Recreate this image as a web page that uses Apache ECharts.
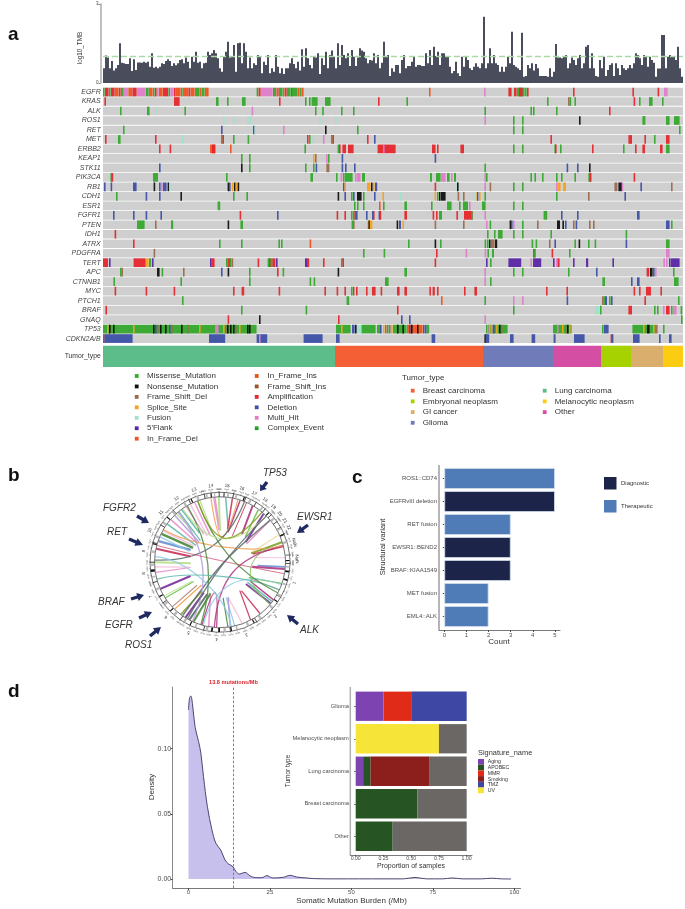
<!DOCTYPE html>
<html><head><meta charset="utf-8">
<script src="https://cdn.jsdelivr.net/npm/echarts@6/dist/echarts.min.js"></script>
<style>html,body{margin:0;padding:0;background:#fff}#c{width:685px;height:909px}</style>
</head><body><div id="c"></div>
<script>
// ---------- panel a: TMB ----------
const tmb=[.56,1.04,.97,.56,.84,.47,.56,.68,1.51,.77,.75,.72,.72,.94,.46,.90,.49,.78,.78,.77,.81,.77,.81,.62,1.13,.58,.62,.56,.62,.75,.72,.84,.90,.84,.65,.75,.67,.75,.87,.90,.75,.97,.81,.56,1.00,.81,1.19,.77,.81,.56,.75,.77,1.19,1.06,1.13,1.25,1.13,.94,.56,.43,1.00,1.19,1.57,.97,1.00,1.44,.43,1.51,1.53,.75,1.51,1.19,.56,.97,.56,.75,.68,1.06,1.00,.37,.81,.68,1.06,.37,.56,.43,1.06,.62,.37,.56,.34,.56,.56,.75,.94,.72,.56,.81,.47,1.28,.62,1.32,.94,.68,.56,1.03,.97,1.13,.34,.94,.68,1.19,.56,1.06,1.23,1.00,.56,1.51,.68,1.44,1.06,.94,1.13,.65,1.25,1.00,.65,.97,1.32,1.23,1.19,.94,.75,.87,.85,1.13,.75,1.06,.56,.77,1.57,1.00,1.06,.27,.56,.43,.68,.68,.37,.87,1.06,.56,.65,.65,.81,1.00,.62,.68,.68,.65,.65,1.13,.75,1.25,.68,1.38,1.03,1.19,.68,1.13,1.13,1.00,1.00,.62,.37,.46,.81,.37,.27,1.00,.62,1.00,.87,.56,.49,.62,.75,.62,.56,.75,2.52,.56,.75,1.32,.75,1.06,.75,.68,.43,.62,.43,.62,1.00,.75,1.95,.68,.62,.56,.49,1.91,.24,.27,.68,.56,.75,.47,.72,.56,.27,.27,.27,.27,.24,.56,.24,.43,1.48,.97,.97,.94,1.00,1.06,.56,.75,.97,.87,.68,.94,1.06,.56,.75,1.38,1.44,.56,1.13,.56,.27,.24,.87,.56,1.00,.27,.49,.68,.75,.27,.75,.56,.30,.68,.56,.49,.56,.68,.56,.75,1.13,1.06,.94,.68,1.06,1.00,.62,1.00,.87,.77,.24,.55,.55,1.82,1.82,.56,1.00,1.06,1.00,1.03,.87,1.38,.56,.24];
const tmbThreshold=1;
const genes=['EGFR','KRAS','ALK','ROS1','RET','MET','ERBB2','KEAP1','STK11','PIK3CA','RB1','CDH1','ESR1','FGFR1','PTEN','IDH1','ATRX','PDGFRA','TERT','APC','CTNNB1','MYC','PTCH1','BRAF','GNAQ','TP53','CDKN2A/B'];
// each mark: [first sample, type key, span in samples (default 1)]
const mEGFR=[[0,'M'],[1,'A',2],[3,'M'],[4,'A',2],[6,'I',2],[8,'A'],[9,'M',1.5],[10.5,'H',2.2],[12.7,'I',2],[14.7,'A',2.3],[17,'H',4.5],[21.5,'M',1.5],[23,'I',2],[25,'M'],[26,'A'],[27,'H'],[28,'I',2],[30,'A',2.7],[32.7,'M'],[33.7,'H',1.8],[35.5,'A'],[36.5,'I',2.5],[39,'M'],[40,'I',2.7],[42.7,'A'],[43.7,'I',2.3],[46,'M',2.5],[48.5,'I'],[49.5,'M',1.5],[51,'I',2],[76.8,'M'],[77.8,'A',1.2],[79,'H',6],[85,'M',1.7],[86.7,'I'],[87.7,'A',.8],[88.5,'M',1.5],[90,'I'],[91,'A'],[92,'M',2],[94,'A',.5],[94.5,'M',3],[97.5,'I'],[98.5,'M'],[99.5,'I'],[163,'I'],[190.5,'H'],[202.7,'A',1.8],[204.5,'F'],[205.5,'A',1.5],[207,'M',3.7],[208,'A',2],[210.7,'M',1.3],[212,'A'],[235,'A'],[264.7,'A'],[277.3,'A'],[280.5,'H',2]];
const mKRAS=[[.7,'A'],[35.5,'A',3],[56.5,'M',1.5],[62,'M'],[69.5,'M',2],[88,'A'],[101,'M'],[103,'M'],[104.3,'M',3.2],[111,'M',3],[137.5,'A'],[151.7,'M'],[222,'M'],[232.5,'D'],[233.3,'M'],[235.7,'M'],[265.3,'A'],[268,'M'],[273,'M',2],[279.5,'M']];
const mALK=[[8.5,'M'],[22,'M',1.5],[26,'F'],[40.7,'M'],[74.3,'H'],[106,'M'],[109,'F'],[109.6,'M'],[119,'M'],[125,'M'],[190.7,'M'],[213.7,'M'],[215,'M'],[226.5,'M'],[253,'A']];
const mROS1=[[60,'F'],[65,'F'],[72,'F'],[73.5,'F'],[108,'F'],[116,'F'],[190.7,'H'],[205,'M'],[209.5,'M'],[238,'N'],[269.7,'M',1.7],[281.5,'M',2],[285.5,'M',3]];
const mRET=[[10,'M'],[59,'L'],[75,'L'],[75.7,'F'],[90,'H'],[111,'N'],[127,'M'],[205,'M'],[209.5,'M'],[288,'M']];
const mMET=[[1,'A'],[7.5,'M',1.5],[26,'A'],[39.5,'F'],[59,'M'],[59.7,'A'],[65,'M'],[72.3,'M'],[102,'A'],[103,'M'],[104.7,'F'],[110,'H'],[114,'M'],[114.7,'A'],[132,'A'],[135.5,'L'],[223.7,'A'],[262.7,'A',2],[270.7,'A'],[275.5,'M'],[281.5,'A',2]];
const mERBB2=[[28,'A'],[33.3,'A'],[53.5,'I',3],[54.5,'A',1.7],[63.5,'I'],[100.7,'M'],[117.3,'M'],[118,'A'],[119.7,'A',2],[122.5,'A',3],[137.3,'A',9.2],[140,'H'],[164.5,'A',2],[167,'A'],[178.7,'A',2],[205,'M'],[209.5,'M'],[225.7,'M'],[226,'A'],[228.5,'M'],[244.5,'A'],[260,'M'],[266,'A'],[269.7,'A',1.5],[278.5,'A',1.5],[281.5,'M',2]];
const mKEAP1=[[69,'M'],[73,'M'],[105,'S'],[106,'D'],[111.5,'H'],[112.5,'M'],[119.3,'L'],[165.8,'L']];
const mSTK11=[[28,'L'],[69,'N'],[73,'M'],[101,'M'],[105,'M'],[106.3,'L'],[111.7,'D',1.7],[119.3,'L'],[121,'L'],[125.5,'L'],[190.7,'M'],[231.8,'L'],[237,'L'],[243,'N']];
const mPIK3CA=[[3.7,'M'],[4.3,'A'],[25,'M',2.7],[61.5,'M'],[103.7,'M',1.5],[116.5,'M'],[118.8,'H'],[120,'M'],[121,'M',4],[126,'H'],[127,'H',2],[129.5,'M',1.7],[163.5,'M',1.2],[166.5,'M',2.5],[169,'H',2.5],[172,'M',1.5],[174,'H'],[175.5,'M',1.2],[190.7,'H'],[191.5,'M'],[213.7,'M'],[215.7,'M'],[219.5,'M'],[226.5,'M'],[229,'M'],[235.7,'M'],[242.7,'M',1.8],[243.3,'A',.7],[265.3,'A']];
const mRB1=[[.5,'L'],[3.8,'L'],[15,'L',2],[25.3,'N'],[28,'L'],[29,'H'],[30,'L',2],[32.3,'N'],[33,'F'],[62.3,'N'],[63,'L'],[64.5,'S',1],[65.5,'N'],[66.3,'S'],[67.3,'N'],[120,'L'],[120.7,'S'],[132,'S',2],[134,'N'],[135,'S'],[136,'L',1.3],[165.8,'A'],[176.7,'F'],[177,'N'],[190.7,'H'],[193.3,'D'],[205,'M'],[209.5,'M'],[226.5,'H'],[227.3,'S',1.7],[230,'S',1.7],[255.7,'D',1.7],[257.7,'N',2],[259.3,'H'],[268.7,'L'],[284,'D']];
const mCDH1=[[6.5,'M'],[21.3,'L'],[28,'L'],[38.7,'N'],[65,'M'],[71.7,'M'],[117.3,'N'],[120.7,'L'],[124,'M'],[125,'L'],[127,'N',2.5],[130,'M'],[135.5,'L'],[139.7,'S'],[148.5,'F'],[165.8,'S'],[167,'M'],[168,'N'],[169,'N',2.5],[177.3,'D'],[180,'D'],[185.7,'F'],[186.7,'S'],[187,'L',.7],[188,'S'],[190.7,'M'],[226.5,'M'],[242.5,'D'],[260.7,'L']];
const mESR1=[[57.3,'M',1.5],[125.5,'M'],[127,'M'],[130,'M'],[138,'I'],[140,'M'],[150.7,'M',1.5],[164,'M'],[172,'M',2.5],[178,'M'],[180,'M',2.7],[183,'H'],[189.5,'M',2],[205,'M'],[209.5,'M']];
const mFGFR1=[[5,'L'],[15,'L'],[21.3,'L'],[28.7,'L'],[68.3,'A'],[87,'L'],[116.8,'A'],[120.7,'A'],[124,'M'],[125,'M'],[125.7,'A'],[126.5,'L'],[131.5,'L'],[134.5,'L'],[135,'A'],[137.8,'L'],[138.3,'A'],[150.7,'A',1.5],[164.8,'A',1],[166.5,'A'],[168,'M',1.7],[176.7,'A'],[180.5,'A',4.5],[184,'M'],[190.7,'H'],[220.3,'M',2],[229,'L'],[237,'L'],[267,'L',1.5]];
const mPTEN=[[17,'M',4],[26,'D'],[34,'M',1.3],[62.3,'N'],[68.7,'M',1.5],[124.3,'M'],[125,'D'],[132.2,'S',2.7],[132.7,'N',.6],[146.8,'N'],[148,'L',1.2],[149.7,'S'],[165.8,'D'],[180,'D'],[191.5,'H'],[193.3,'M'],[203.3,'N'],[204,'L'],[205,'H'],[209.5,'M'],[217,'D'],[227,'N',1.7],[229.7,'N'],[231,'L'],[235,'D'],[236.3,'L'],[243,'D'],[245,'D'],[281.5,'L',2],[284,'M']];
const mIDH1=[[5.8,'A'],[192,'M'],[195.5,'M'],[197.5,'M',2.5],[205,'M'],[209.5,'M'],[223.7,'M'],[261.3,'M']];
const mATRX=[[15,'A'],[58,'M'],[69,'M'],[87.7,'M'],[89,'M'],[103.3,'I'],[152.5,'M'],[165.8,'N'],[168.5,'M'],[190.8,'M'],[192,'M',1],[193,'N'],[194,'D',2],[196,'N',1.3],[214.3,'M'],[216.3,'M'],[223,'D'],[225.7,'L'],[235.7,'M'],[237.8,'N'],[242.5,'M'],[245.8,'M'],[261.3,'L'],[281.5,'M',2]];
const mPDGFRA=[[25.3,'D'],[130,'M'],[140.3,'M'],[166.5,'A'],[181.3,'H'],[190.8,'H'],[192.2,'M'],[194.5,'M',1.2],[215,'A',1.5],[215.3,'M',1],[224.3,'A'],[233,'M'],[281.5,'H',2]];
const mTERT=[[0,'A',2.7],[3,'P'],[15,'H'],[15.5,'A',6],[21.5,'S',1.5],[23,'M',1.3],[24.5,'P'],[53.5,'P'],[54.2,'A',1.8],[61.5,'M'],[62.3,'A',2],[63.3,'M'],[64.3,'D'],[77.3,'A'],[82.3,'M',2.7],[83,'A',.5],[84.7,'A',1.7],[86.5,'P'],[101,'P',1.3],[102,'A',1.3],[110,'A'],[119,'M'],[119.7,'A'],[165.8,'A'],[191.5,'P'],[193.5,'M'],[202.7,'P',6.6],[213.7,'H'],[215,'P',4.3],[225,'P'],[226.5,'H',1],[227.3,'A',1.2],[235,'P'],[241.5,'P',1.3],[254.7,'P'],[280.2,'H'],[281.5,'H'],[283,'P'],[284,'P',4.5]];
const mAPC=[[8.5,'M'],[9.2,'D'],[27,'N',1.5],[29.3,'M'],[40,'D'],[59,'L'],[62.3,'N'],[73,'M'],[87,'A'],[89.8,'M'],[117.3,'N'],[150.7,'M',1.5],[190.7,'H'],[205,'M'],[209.5,'M'],[232.5,'M'],[246.5,'L'],[271.8,'A',1.5],[273.5,'N',1.5],[275,'L'],[276,'H'],[285,'M']];
const mCTNNB1=[[5.2,'M'],[38.7,'M'],[73,'M'],[103.3,'M'],[105.3,'M'],[141,'M',2],[190.7,'H'],[193.5,'M'],[249.7,'M',1.5],[264,'L'],[267,'L',1.5],[285.5,'M',2.5]];
const mMYC=[[5.8,'A'],[21.3,'A'],[35.3,'A'],[65,'A'],[69.3,'A',1.5],[87.8,'A'],[110.7,'A'],[116.8,'A'],[120.7,'A'],[124,'M'],[125,'A',.7],[126.5,'A'],[131.5,'A'],[134.5,'A',2],[138.8,'A'],[147,'A',1.5],[150.7,'A',1.5],[163.2,'A'],[164.8,'A',1.3],[167,'A'],[180.5,'A'],[185.7,'A',1.5],[221.5,'A'],[231.7,'A'],[265.3,'A'],[268,'A'],[271.5,'A',2.7],[278.7,'A']];
const mPTCH1=[[39.5,'M'],[121.8,'M',1.5],[169,'I'],[190.7,'M'],[205,'H'],[209.5,'H'],[231.8,'L'],[249.5,'D'],[250.2,'M'],[251,'L',1.2],[253,'M'],[254,'L'],[270.7,'A'],[287.5,'M']];
const mBRAF=[[1.2,'A'],[69,'M'],[101.3,'M'],[147,'A'],[205,'M'],[246,'F',2.2],[248.5,'M'],[262.7,'A',2],[275.5,'M'],[277,'M'],[280,'H'],[281.5,'A',2],[284,'M'],[285,'H',2],[288.8,'M']];
const mGNAQ=[[62.3,'A'],[78,'N'],[117.5,'A'],[149,'L'],[153,'L'],[190.7,'H'],[289,'M']];
const mTP53=[[0,'M',77],[2,'S'],[3,'N'],[5,'N'],[15,'S'],[25,'N'],[26,'L'],[27,'D'],[28.5,'N'],[31,'N'],[33,'L'],[34,'D'],[39,'N'],[42,'D'],[48,'S'],[56,'H',2],[60,'S'],[61,'D'],[62,'N'],[63.5,'N'],[65,'N'],[66,'D'],[68,'S'],[72,'N'],[73,'N'],[116.5,'M',7.5],[119,'S'],[124.5,'L',1.5],[126,'N'],[127,'F',2.3],[129.3,'M',7.2],[137,'M',2],[138.5,'L'],[140,'S'],[141,'D'],[142,'M'],[143,'D'],[144,'S'],[145,'M',7],[147,'N'],[149.7,'N'],[152,'I',8],[153,'L'],[154,'N'],[157,'N'],[160,'L'],[161,'L'],[161.8,'M',1.5],[191.5,'M',11],[192,'H'],[193,'S'],[194,'H'],[195,'L'],[196.5,'S'],[198,'N'],[199,'D'],[225,'M',9.5],[227,'H'],[229.5,'S'],[231,'D'],[232,'N'],[233,'S'],[249.5,'M'],[250.5,'L',2.5],[264.7,'M',12],[270,'S'],[272,'N',1.5],[275,'S'],[276.5,'D'],[280,'M']];
const mCDKN2AB=[[0,'A'],[.7,'L',14.3],[53,'L',8.3],[76.8,'L',5.5],[78,'H'],[100.3,'L',9.7],[116.5,'L',2],[164.3,'L',2],[190.7,'N'],[191.3,'L',2],[203.5,'L',2],[214.3,'L',2],[225.3,'L',1.2],[235.5,'L',5.5],[253.8,'A'],[254.4,'L'],[265,'L',3.5],[278,'L'],[283,'L',1.5]];
const geneMarks=[mEGFR,mKRAS,mALK,mROS1,mRET,mMET,mERBB2,mKEAP1,mSTK11,mPIK3CA,mRB1,mCDH1,mESR1,mFGFR1,mPTEN,mIDH1,mATRX,mPDGFRA,mTERT,mAPC,mCTNNB1,mMYC,mPTCH1,mBRAF,mGNAQ,mTP53,mCDKN2AB];
const mutKeys={M:'#35a82c',N:'#111111',D:'#9a6a4e',S:'#f5a11c',F:'#9fe3cc',P:'#5a25a3',I:'#f2511f',J:'#e8500f',K:'#9a5028',A:'#e5262b',L:'#3d50a5',H:'#e07ccb',C:'#23a328'};
const mutLegendL=[['Missense_Mutation','M'],['Nonsense_Mutation','N'],['Frame_Shift_Del','D'],['Splice_Site','S'],['Fusion','F'],["5'Flank",'P'],['In_Frame_Del','I']];
const mutLegendR=[['In_Frame_Ins','J'],['Frame_Shift_Ins','K'],['Amplification','A'],['Deletion','L'],['Multi_Hit','H'],['Complex_Event','C']];
const tumorOrder=['Lung carcinoma','Breast carcinoma','Glioma','Other','Embryonal neoplasm','GI cancer','Melanocytic neoplasm'];
const tumorCounts=[116,74,35,24,15,16,10];
const tumorColors=['#5cbc8a','#f45f35','#6f7cb9','#d44fa4','#a5d200','#daae6c','#fccc12'];
const tumorLegendL=['Breast carcinoma','Embryonal neoplasm','GI cancer','Glioma'];
const tumorLegendR=['Lung carcinoma','Melanocytic neoplasm','Other'];
// ---------- panel b: circos ----------
const chromNames=['1','2','3','4','5','6','7','8','9','10','11','12','13','14','15','16','17','18','19','20','21','22','X','Y'];
const chromMb=[249,243,198,191,181,171,159,146,141,135,135,133,115,107,102,90,81,78,59,63,48,51,155,59];
const ringStart=91; // clockwise from the top
const ideogramDark=[[-8,1],[3,.8],[20,1],[44,1],[66,1],[88,1],[97,1.5],[104,1.5],[124,1],[150,1],[170,1],[180,1.5],[186,1.5],[205,1],[225,1],[240,1],[262,2],[285,1],[310,1],[335,1]];
const ideogramGray=[[-12,1.5],[-5,1],[6,1.5],[13,1.5],[25,2],[37,1.5],[50,2],[60,1.5],[72,2],[83,1.5],[93,1.5],[108,1.5],[118,2],[130,2],[143,2],[155,2],[165,1.5],[175,2],[190,2],[200,1.5],[210,2],[220,2],[232,2],[246,2],[257,1.5],[267,2],[278,2],[291,2],[304,2],[316,2],[328,2],[340,2]];
const linkColors=['#e88fc9','#6fbf4a','#5fb8a8','#b0357f','#b8e08a','#5a6a6a','#7b2d9b','#6c8fd0','#c8325a','#f0a050','#8ccbe8','#8a9a20','#4a8a3a','#f4c0e0','#b08878','#b49ad8','#f5d9a0'];
// long curved links: [angle A, angle B, pull radius (0..1 of the inner circle), colour index, width]
const links=[[-8,16,.2,9,1.2],[183,196,.3,3,1.3],[185,75,.25,3,1.3],[50,215,.1,5,1.5],[272,22,.3,5,1.3],[320,205,.35,15,1.3],[285,100,.5,8,.8],[300,75,.5,9,1.2],[330,197,.3,12,1.3],[275,170,.5,10,1.2],[110,195,.35,10,1.2],[255,115,.5,2,1.2],[340,118,.3,12,1.2],[325,45,.3,4,1.2],[340,40,.25,11,1.2],[210,45,.2,5,1.3],[72,130,.4,1,1]];
// short ribbons: [angle at the edge, angle at the inner end, inner radius (0..1), colour index, width]
const spokes=[[-42,-40,.6,4,1.2],[-36,-35,.55,2,1.5],[-31,-30,.5,0,1.5],[-27,-26,.45,13,1.5],[-23,-20,.45,0,1.5],[-18,-14,.45,4,1.3],[-5,-1,.5,0,2.5],[-1,0,.48,4,2],[5,15,.5,2,1.5],[11,13,.52,8,1.5],[18,15,.48,3,1.5],[24,25,.45,8,1],[30,38,.55,3,2],[36,45,.55,1,1.5],[42,52,.5,6,2],[50,55,.5,0,1.5],[65,73,.5,16,1.2],[72,74,.5,11,2],[76,76,.52,8,1.5],[86,82,.53,13,1.2],[94,95,.58,7,1.8],[96,98,.5,3,2],[109,118,.5,1,1.3],[115,118,.55,14,1],[125,122,.55,3,1.5],[127,126,.52,2,1.5],[129,130,.52,6,1.8],[130,128,.58,1,1],[142,143,.55,8,1.3],[152,145,.53,8,1.2],[160,167,.55,13,1.2],[167,170,.55,10,1.2],[171,167,.55,15,1.5],[173,175,.55,12,1.2],[190,196,.53,0,1.5],[204,197,.5,12,2],[208,202,.53,5,2],[212,208,.53,6,2],[217,212,.52,11,1.5],[224,219,.45,9,1.2],[227,225,.5,14,1.2],[237,234,.5,1,1.2],[239,236,.52,4,1],[246,245,.5,6,2],[261,260,.46,0,1.2],[266,261,.48,13,1.2],[270,268,.45,4,2],[282,281,.46,8,2],[289,293,.49,7,2.5],[293,290,.5,10,1.2],[296,298,.47,12,2.5],[299,302,.48,13,1.5],[306,305,.45,2,1.5],[311,310,.45,0,1.5],[316,314,.45,15,1.5],[321,318,.45,2,1.2]];
const geneCallouts=[['TP53',263,473,267,482,260,491],['FGFR2',103,508,137,516,149,523],['RET',107,532,129,539,143,545],['EWSR1',297,517,308,525,297,533],['BRAF',98,602,131,599,144,595],['EGFR',105,625,139,618,152,612],['ROS1',125,645,150,636,161,627],['ALK',300,630,298,624,287,615]];
// ---------- panel c ----------
const svNames=['ROS1::CD74','EGFRvIII deletion','RET fusion','EWSR1::BEND2','BRAF::KIAA1549','MET fusion','EML4::ALK'];
const svCounts=[5,5,3,3,3,2,2];
const svRoles=['Therapeutic','Diagnostic','Therapeutic','Diagnostic','Diagnostic','Therapeutic','Therapeutic'];
const roleColors={Diagnostic:'#1c2449',Therapeutic:'#4f7bb6'};
const countTicks=[0,1,2,3,4,5];
// ---------- panel d ----------
const densityX=[0,.3,.7,1.2,2,3.1,3.8,4.6,5.8,7.2,8.4,9.9,11.2,12.3,13.6,14.6,15.6,17.4,18.9,21,22.5,24,25.9,29.1,31.2,33.2,36.3,38.3,45,60,66,69.5,73,78,81,84,90,93,96,99];
const densityY=[.1296,.1385,.1403,.1347,.1168,.1053,.0964,.0785,.0555,.0376,.0274,.0222,.0146,.0115,.0095,.0056,.0038,.0051,.0023,.001,.001,.0026,.0008,.0013,.0028,.0015,.0008,.0003,.0001,.0001,.0001,.0012,.0001,.0001,.0008,.0001,.0001,.0006,.0001,0];
const tmbCut=13.8;
const burdenTicks=[0,25,50,75,100];
const densityTicks=[0,.05,.1];
const propTicks=[0,.25,.5,.75,1];
const sigTumors=['Glioma','Melanocytic neoplasm','Lung carcinoma','Breast carcinoma','Other'];
const sigNames=['Aging','APOBEC','MMR','Smoking','TMZ','UV'];
const sigColors=['#7d43b0','#265423','#e02b18','#8c1f1c','#3e47a4','#f6e438'];
const sigAging=[.25,0,.067,0,0];
const sigAPOBEC=[0,0,.067,.556,.333];
const sigMMR=[.25,0,0,0,0];
const sigSmoking=[0,0,.533,0,0];
const sigTMZ=[.5,0,0,0,0];
const sigUV=[0,.75,0,0,0];
const sigNone=[0,.25,.333,.444,.667];

const FONT='"Liberation Sans",Arial,sans-serif';
function txt(t,x,y,size,o){o=o||{};const a=o.align||'left';
  return {type:'text',x:x,y:y,rotation:o.rot||0,silent:true,z:20,style:{text:t,align:a,textAlign:a,verticalAlign:'middle',textVerticalAlign:'middle',fill:o.fill||'#333',font:(o.style||'normal')+' '+(o.weight||'normal')+' '+size+'px '+FONT}};}
function box(x,y,w,h,c){return {type:'rect',silent:true,z:20,shape:{x:x,y:y,width:w,height:h},style:{fill:c}};}
function arrow(x0,y0,x1,y1){const dx=x1-x0,dy=y1-y0,L=Math.hypot(dx,dy),ux=dx/L,uy=dy/L,nx=-uy,ny=ux,hb=L*.5,sw=1.7,hw=4.2;
  const px=x1-ux*hb,py=y1-uy*hb;
  return {type:'polygon',silent:true,z:20,shape:{points:[[x0+nx*sw,y0+ny*sw],[px+nx*sw,py+ny*sw],[px+nx*hw,py+ny*hw],[x1,y1],[px-nx*hw,py-ny*hw],[px-nx*sw,py-ny*sw],[x0-nx*sw,y0-ny*sw]]},style:{fill:'#1f2a62'}};}
const G=[];
[['a',8,35],['b',8,476],['c',352,478],['d',8,692]].forEach(l=>G.push(txt(l[0],l[1],l[2],19,{weight:'bold',fill:'#111'})));
G.push(txt('log10_TMB',80,48,6.3,{rot:Math.PI/2,align:'center'}));
mutLegendL.forEach((d,i)=>{const y=376+i*10.45;G.push(box(134.8,y-1.9,3.8,3.8,mutKeys[d[1]]));G.push(txt(d[0],147,y,8));});
mutLegendR.forEach((d,i)=>{const y=376+i*10.45;G.push(box(254.8,y-1.9,3.8,3.8,mutKeys[d[1]]));G.push(txt(d[0],267.5,y,8));});
G.push(txt('Tumor_type',402,377.3,8));
tumorLegendL.forEach((n,i)=>{const y=390.7+i*10.7;G.push(box(410.8,y-1.9,3.8,3.8,tumorColors[tumorOrder.indexOf(n)]));G.push(txt(n,422.7,y,8));});
tumorLegendR.forEach((n,i)=>{const y=390.7+i*10.7;G.push(box(542.8,y-1.9,3.8,3.8,tumorColors[tumorOrder.indexOf(n)]));G.push(txt(n,554.7,y,8));});
geneCallouts.forEach(c=>{G.push(txt(c[0],c[1],c[2],10,{style:'italic'}));G.push(arrow(c[3],c[4],c[5],c[6]));});
// panel c extras
G.push({type:'line',silent:true,z:10,shape:{x1:439,y1:465,x2:439,y2:630},style:{stroke:'#b5b5b5',lineWidth:2}});
G.push(txt('Structural variant',383,547,7.5,{rot:Math.PI/2,align:'center'}));
G.push(txt('Count',499,642,8,{align:'center'}));
Object.keys(roleColors).forEach((r,i)=>{const y=477+i*23;G.push(box(604,y,12.5,12.5,roleColors[r]));G.push(txt(r,621,y+6,6));});
// panel d extras
G.push(txt('Density',152,787,8,{rot:Math.PI/2,align:'center'}));
G.push(txt('Somatic Mutation Burden (/Mb)',351.5,901,8,{align:'center'}));
G.push({type:'line',silent:true,z:10,shape:{x1:350.3,y1:687,x2:350.3,y2:855},style:{stroke:'#b0b0b0',lineWidth:1.5}});
G.push(txt('Tumor type',288,771,6.5,{rot:Math.PI/2,align:'center'}));
G.push(txt('Proportion of samples',411,865.7,7,{align:'center'}));
G.push(txt('Signature_name',478,752.7,7.4));
sigNames.forEach((n,i)=>{G.push(box(478,759+i*5.7,6,5.7,sigColors[i]));G.push(txt(n,487.7,762+i*5.7,5.2));});

// data for custom series
const rows=genes.map((g,i)=>[0,290,i,'#cfcfcf']);
const marks=[];geneMarks.forEach((arr,i)=>arr.forEach(m=>marks.push([m[0],m[0]+(m[2]||1),i,mutKeys[m[1]]])));
function rowItem(params,api){const a=api.coord([api.value(0),api.value(2)]),b=api.coord([api.value(1),api.value(2)]);const h=api.size([0,1])[1];
  return {type:'rect',shape:{x:a[0],y:a[1]-h/2+.4,width:b[0]-a[0],height:h-.8},style:{fill:api.value(3)}};}
function markItem(params,api){const a=api.coord([api.value(0),api.value(2)]),b=api.coord([api.value(1),api.value(2)]);const h=api.size([0,1])[1];
  return {type:'rect',shape:{x:a[0],y:a[1]-h/2+.4,width:Math.max(1.4,b[0]-a[0]-.4),height:h-.8},style:{fill:api.value(3),opacity:.95}};}
const RI=65; // inner circle radius, px = polar units
function linkItem(params,api){const a1=api.value(0),a2=api.value(1),c=api.value(2)*RI;
  const p1=api.coord([RI,a1]),p2=api.coord([RI,a2]),c1=api.coord([c,a1]),c2=api.coord([c,a2]);
  return {type:'bezierCurve',shape:{x1:p1[0],y1:p1[1],x2:p2[0],y2:p2[1],cpx1:c1[0],cpy1:c1[1],cpx2:c2[0],cpy2:c2[1]},style:{fill:'none',stroke:linkColors[api.value(3)],lineWidth:api.value(4),opacity:.85}};}
function spokeItem(params,api){const p=api.coord([RI,api.value(0)]),q=api.coord([api.value(2)*RI,api.value(1)]);
  return {type:'line',shape:{x1:p[0],y1:p[1],x2:q[0],y2:q[1]},style:{stroke:linkColors[api.value(3)],lineWidth:api.value(4),opacity:.9}};}
function bandItem(color){return function(params,api){const a=api.value(0),d=api.value(1),n=Math.max(2,Math.ceil(d));const pts=[];for(let i=0;i<=n;i++)pts.push(api.coord([67.7,a+d*i/n]));
  return {type:'polyline',shape:{points:pts},style:{fill:'none',stroke:color,lineWidth:4}};};}
const mbTicks=[];let cum=0;const genome=chromMb.reduce((s,v)=>s+v,0);
chromMb.forEach((len,i)=>{for(let mb=0;mb<len;mb+=50){mbTicks.push([ringStart+(cum+mb)/genome*360,mb+'Mb']);}cum+=len;});
const chromMid=[];cum=0;chromMb.forEach((len,i)=>{chromMid.push([ringStart+(cum+len/2)/genome*360,chromNames[i]]);cum+=len;});
function radialText(r,size,color){return function(params,api){const ang=api.value(0),p=api.coord([r,ang]);const rad=ang%360*Math.PI/180;
  return {type:'text',x:p[0],y:p[1],rotation:-rad,style:{text:String(api.value(1)),align:'center',textAlign:'center',verticalAlign:'middle',textVerticalAlign:'middle',fill:color,font:size+'px '+FONT}};};}
function tickItem(params,api){const ang=api.value(0),p=api.coord([70,ang]),q=api.coord([71.3,ang]);return {type:'line',shape:{x1:p[0],y1:p[1],x2:q[0],y2:q[1]},style:{stroke:'#333',lineWidth:.4}};}

const AX='#4d4d4d';
const series=[];
series.push({type:'bar',name:'TMB',xAxisIndex:0,yAxisIndex:0,data:tmb,barWidth:1.8,silent:true,itemStyle:{color:'#363949'},
  markLine:{silent:true,symbol:'none',label:{show:false},lineStyle:{color:'#a9d9a4',type:[6,3],width:1.4},data:[{yAxis:tmbThreshold}]}});
series.push({type:'custom',name:'rows',xAxisIndex:1,yAxisIndex:1,renderItem:rowItem,data:rows,encode:{x:[0,1],y:2},silent:true,z:2});
series.push({type:'custom',name:'marks',xAxisIndex:1,yAxisIndex:1,renderItem:markItem,data:marks,encode:{x:[0,1],y:2},silent:true,z:3});
tumorOrder.forEach((n,i)=>series.push({type:'bar',name:n,xAxisIndex:2,yAxisIndex:2,stack:'t',barWidth:'100%',silent:true,itemStyle:{color:tumorColors[i]},data:[tumorCounts[i]]}));
series.push({type:'pie',name:'ideogram',center:[220,562.3],radius:[65.5,70],startAngle:90-ringStart,clockwise:true,silent:true,label:{show:false},labelLine:{show:false},padAngle:0,minAngle:0,z:3,
  itemStyle:{color:'#ffffff',borderColor:'#111',borderWidth:.6},data:chromNames.map((n,i)=>({name:n,value:chromMb[i]}))});
series.push({type:'custom',coordinateSystem:'polar',name:'spokes',renderItem:spokeItem,data:spokes,silent:true,z:2});
series.push({type:'custom',coordinateSystem:'polar',name:'links',renderItem:linkItem,data:links,silent:true,z:2});
series.push({type:'custom',coordinateSystem:'polar',name:'grayBands',renderItem:bandItem('#b9b9b9'),data:ideogramGray,silent:true,z:5});
series.push({type:'custom',coordinateSystem:'polar',name:'darkBands',renderItem:bandItem('#111111'),data:ideogramDark,silent:true,z:6});
series.push({type:'custom',coordinateSystem:'polar',name:'ticks',renderItem:tickItem,data:mbTicks,silent:true,z:5});
series.push({type:'custom',coordinateSystem:'polar',name:'mbLabels',renderItem:radialText(73,2.4,'#555'),data:mbTicks,silent:true,z:5});
series.push({type:'custom',coordinateSystem:'polar',name:'chromLabels',renderItem:radialText(77,4.6,'#333'),data:chromMid,silent:true,z:5});
series.push({type:'bar',name:'Structural variants',xAxisIndex:3,yAxisIndex:3,barWidth:21,silent:true,data:svCounts.map((v,i)=>({value:v,itemStyle:{color:roleColors[svRoles[i]],borderColor:'#d6deec',borderWidth:.8}}))});
series.push({type:'line',name:'Density',xAxisIndex:4,yAxisIndex:4,data:densityX.map((x,i)=>[x,densityY[i]]),smooth:.35,symbol:'none',silent:true,lineStyle:{color:'#3c3663',width:.9},areaStyle:{color:'#c7bfec',opacity:1},
  markLine:{silent:true,symbol:'none',lineStyle:{color:'#d9434b',type:[2.5,1.8],width:.9},label:{show:true,position:'end',formatter:'13.8 mutations/Mb',color:'#d8262c',fontSize:5.6,fontWeight:'bold',fontFamily:FONT,distance:2},data:[{xAxis:tmbCut}]}});
[[sigAging,0],[sigAPOBEC,1],[sigMMR,2],[sigSmoking,3],[sigTMZ,4],[sigUV,5]].forEach(p=>series.push({type:'bar',name:sigNames[p[1]],xAxisIndex:5,yAxisIndex:5,stack:'s',barWidth:29.3,silent:true,itemStyle:{color:sigColors[p[1]]},data:p[0]}));
series.push({type:'bar',name:'Unassigned',xAxisIndex:5,yAxisIndex:5,stack:'s',barWidth:29.3,silent:true,itemStyle:{color:'#6b6764'},data:sigNone});

const option={animation:false,backgroundColor:'#fff',textStyle:{fontFamily:FONT},graphic:{elements:G},
 polar:{center:[220,562.3],radius:80},
 angleAxis:{show:false,type:'value',min:0,max:360,startAngle:90,clockwise:true},
 radiusAxis:{show:false,type:'value',min:0,max:80},
 grid:[
  {left:103,top:4,width:580,height:79},
  {left:103,top:87.3,width:580,height:256},
  {left:103,top:345.7,width:580,height:21.3},
  {left:439,top:467,width:121,height:161},
  {left:172.7,top:687,width:347.8,height:201},
  {left:350.3,top:690,width:121.7,height:162.5}],
 xAxis:[
  {gridIndex:0,type:'category',data:tmb.map((v,i)=>i),show:false},
  {gridIndex:1,type:'value',min:0,max:290,show:false},
  {gridIndex:2,type:'value',min:0,max:290,show:false},
  {gridIndex:3,type:'value',min:-.24,max:5.23,position:'bottom',offset:2,splitLine:{show:false},axisLine:{show:true,onZero:false,lineStyle:{color:'#7a7a7a',width:1}},axisTick:{show:true,length:2,lineStyle:{color:AX},customValues:countTicks},axisLabel:{color:AX,fontSize:6,margin:2,customValues:countTicks}},
  {gridIndex:4,type:'value',min:-4.85,max:101.9,splitLine:{show:false},axisLine:{show:true,onZero:false,lineStyle:{color:'#7a7a7a',width:1}},axisTick:{show:true,length:2,lineStyle:{color:AX},customValues:burdenTicks},axisLabel:{color:AX,fontSize:6,margin:1.5,customValues:burdenTicks}},
  {gridIndex:5,type:'value',min:-.0486,max:1.048,offset:2.5,splitLine:{show:false},axisLine:{show:true,onZero:false,lineStyle:{color:'#7a7a7a',width:1}},axisTick:{show:true,length:1.5,lineStyle:{color:AX},customValues:propTicks},axisLabel:{color:AX,fontSize:5.2,margin:1,formatter:v=>v.toFixed(2),customValues:propTicks}}],
 yAxis:[
  {gridIndex:0,type:'value',min:0,max:3,interval:3,offset:2.5,splitLine:{show:false},axisLine:{show:true,lineStyle:{color:'#b0b0b0',width:1.6}},axisTick:{show:true,length:2,lineStyle:{color:'#888'}},axisLabel:{fontSize:4.5,color:'#444',margin:2}},
  {gridIndex:1,type:'category',data:genes,inverse:true,axisLine:{show:false},axisTick:{show:false},splitLine:{show:false},axisLabel:{interval:0,fontSize:7,fontStyle:'italic',color:'#444',margin:2.3}},
  {gridIndex:2,type:'category',data:['Tumor_type'],axisLine:{show:false},axisTick:{show:false},axisLabel:{fontSize:6.8,color:'#333',margin:2.3}},
  {gridIndex:3,type:'category',data:svNames,inverse:true,axisLine:{show:false},axisTick:{show:true,length:1.5,alignWithLabel:true,lineStyle:{color:AX}},axisLabel:{interval:0,fontSize:6,color:AX,margin:2}},
  {gridIndex:4,type:'value',min:-.0069,max:.1472,splitLine:{show:false},axisLine:{show:true,onZero:false,lineStyle:{color:'#8a8a8a',width:1}},axisTick:{show:true,length:2,lineStyle:{color:AX},customValues:densityTicks},axisLabel:{color:AX,fontSize:7,margin:1.5,formatter:v=>v.toFixed(2),customValues:densityTicks}},
  {gridIndex:5,type:'category',data:sigTumors,inverse:true,axisLine:{show:false},axisTick:{show:true,length:1.5,alignWithLabel:true,lineStyle:{color:AX}},axisLabel:{interval:0,fontSize:5.7,color:AX,margin:1.5}}],
 series:series};
const chart=echarts.init(document.getElementById('c'),null,{renderer:'canvas',width:685,height:909});
chart.setOption(option);
</script></body></html>
